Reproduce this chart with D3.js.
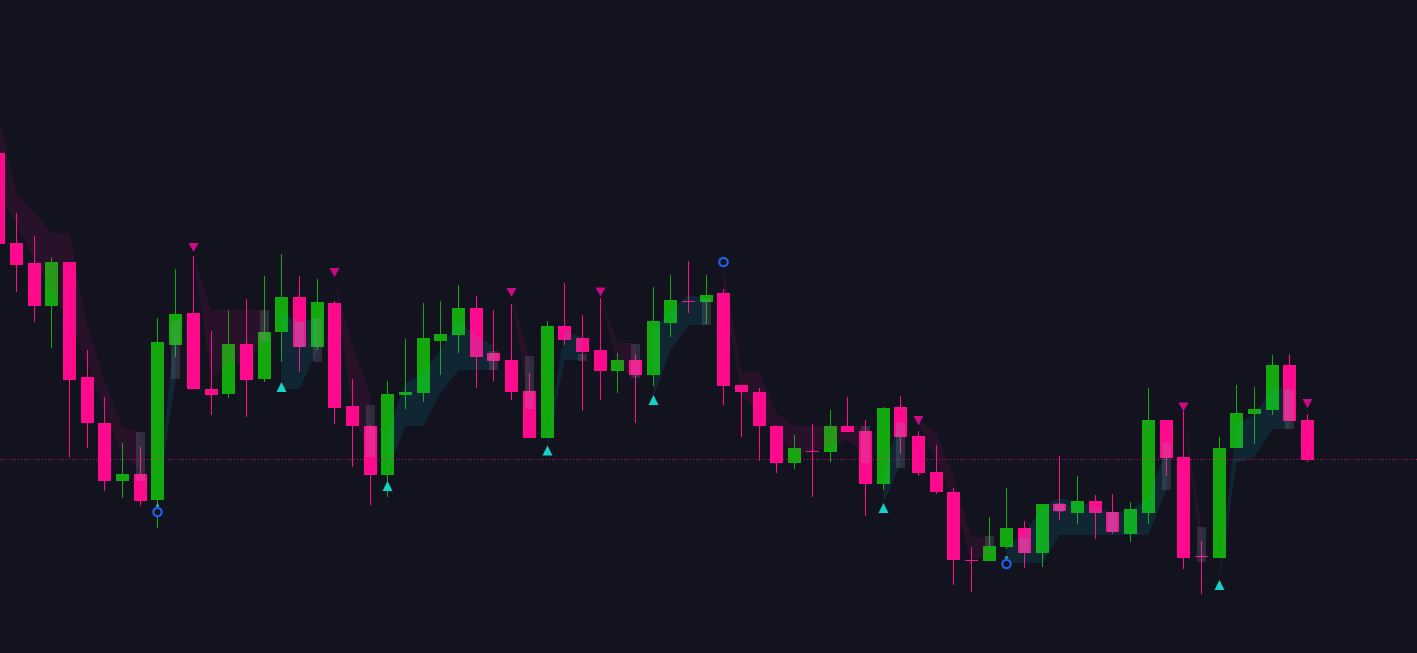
<!DOCTYPE html>
<html>
<head>
<meta charset="utf-8">
<script src="https://cdn.jsdelivr.net/npm/d3@7"></script>
<style>
  html, body { margin: 0; padding: 0; background: #12131f; overflow: hidden; }
</style>
</head>
<body>
<div id="chart-area"></div>
<script>
// candles, oldest first
const opens = [54.7, 45.7, 43.7, 39.4, 43.8, 32.3, 27.7, 21.9, 22.6, 20.0,
  35.5, 38.7, 31.1, 30.6, 35.6, 32.1, 36.8, 40.3, 35.3, 39.7,
  29.4, 27.4, 22.5, 30.5, 30.7, 35.9, 36.5, 39.2, 34.7, 34.0,
  30.9, 26.2, 37.4, 36.2, 35.0, 32.9, 34.0, 32.5, 37.7, 39.9,
  39.8, 40.7, 31.5, 30.8, 27.4, 23.7, 24.9, 24.8, 27.4, 26.9,
  21.6, 29.3, 26.4, 22.8, 20.8, 14.0, 13.9, 15.3, 17.2, 14.7,
  19.6, 18.7, 19.9, 18.8, 16.6, 18.7, 28.0, 24.3, 14.4, 14.2,
  25.2, 28.6, 29.0, 33.5, 28.0];
const highs = [57.0, 48.7, 46.4, 44.3, 43.8, 35.0, 30.3, 25.7, 25.3, 38.2,
  43.1, 44.4, 36.9, 39.0, 40.1, 42.4, 44.6, 42.4, 42.1, 39.9,
  32.1, 27.5, 31.9, 36.1, 39.7, 39.9, 41.5, 40.4, 39.0, 39.6,
  32.7, 37.9, 41.7, 38.5, 40.2, 34.7, 34.6, 41.3, 42.5, 43.9,
  42.5, 41.1, 31.5, 31.2, 27.4, 26.5, 27.6, 29.0, 30.3, 28.0,
  29.3, 30.4, 26.9, 25.5, 21.2, 15.3, 18.3, 21.2, 17.9, 19.6,
  24.4, 22.4, 20.5, 20.6, 19.8, 31.2, 28.0, 28.9, 15.9, 26.3,
  31.5, 31.3, 34.5, 34.6, 28.6];
const lows = [45.0, 40.8, 37.8, 35.2, 24.3, 25.2, 20.9, 20.2, 19.4, 17.2,
  34.3, 31.1, 28.5, 30.2, 28.3, 31.8, 33.8, 32.8, 35.0, 27.6,
  23.3, 19.5, 20.3, 29.1, 29.8, 32.5, 34.7, 31.2, 31.9, 30.0,
  26.2, 26.2, 35.5, 28.9, 30.0, 30.7, 27.7, 31.4, 36.3, 38.7,
  37.6, 29.5, 26.3, 23.9, 22.7, 23.1, 20.3, 23.8, 26.8, 18.4,
  21.0, 24.6, 22.4, 20.6, 11.5, 10.8, 13.9, 15.1, 13.2, 13.3,
  18.0, 17.6, 16.1, 16.6, 15.8, 17.6, 22.4, 13.1, 10.6, 14.2,
  25.2, 25.6, 28.5, 27.9, 23.8];
const closes = [45.6, 43.5, 39.4, 43.8, 32.0, 27.7, 21.9, 22.6, 19.9, 35.8,
  38.6, 31.1, 30.5, 35.6, 32.0, 36.8, 40.3, 35.3, 39.8, 29.2,
  27.4, 22.5, 30.6, 30.8, 36.2, 36.6, 39.2, 34.3, 33.9, 30.8,
  26.2, 37.4, 36.0, 34.8, 32.9, 34.0, 32.5, 37.9, 40.0, 39.8,
  40.5, 31.4, 30.8, 27.4, 23.7, 25.2, 24.8, 27.4, 26.8, 21.6,
  29.2, 26.3, 22.7, 20.8, 14.0, 13.9, 15.4, 17.2, 14.7, 19.6,
  18.9, 19.9, 18.7, 16.8, 19.1, 28.0, 24.2, 14.2, 14.3, 25.2,
  28.7, 29.1, 33.5, 27.9, 24.0];

// trailing stop band
const trailStop = [58.5, 50.7, 48.7, 46.7, 46.7, 37.3, 32.0, 27.2, 26.8, 20.0,
  32.0, 44.4, 39.0, 39.0, 39.0, 39.0, 31.1, 31.1, 35.0, 42.3,
  35.5, 30.5, 23.0, 27.4, 27.4, 30.7, 33.0, 33.0, 33.0, 40.3,
  34.3, 25.3, 34.0, 34.0, 40.3, 35.7, 35.7, 30.3, 35.0, 37.5,
  37.5, 43.3, 32.8, 32.8, 28.7, 27.4, 27.4, 27.4, 27.4, 27.4,
  19.7, 23.5, 28.0, 26.7, 22.3, 16.3, 16.3, 13.7, 13.7, 13.7,
  16.5, 16.5, 16.5, 16.5, 16.5, 16.5, 21.0, 29.3, 17.3, 12.0,
  23.7, 24.3, 27.1, 27.1, 28.6];
const trailBasis = [51.0, 47.5, 44.0, 41.0, 38.0, 33.5, 29.0, 24.5, 23.0, 20.0,
  37.8, 44.4, 32.0, 33.8, 33.8, 36.0, 38.7, 37.8, 38.2, 42.3,
  28.5, 24.5, 27.0, 31.7, 32.7, 35.0, 38.0, 36.3, 35.5, 40.3,
  29.0, 26.0, 37.0, 36.2, 40.3, 33.5, 32.2, 37.0, 39.0, 40.5,
  40.2, 41.0, 30.3, 28.7, 27.0, 24.7, 24.7, 25.5, 26.0, 24.5,
  23.0, 28.0, 27.5, 24.0, 20.0, 14.0, 14.5, 15.3, 16.7, 19.3,
  20.2, 19.8, 19.3, 18.7, 19.0, 20.3, 25.0, 28.9, 14.0, 12.5,
  27.7, 28.5, 31.3, 31.2, 28.6];
const trend = [-1, -1, -1, -1, -1, -1, -1, -1, -1, 1,
  1, -1, -1, -1, -1, -1, 1, 1, 1, -1,
  -1, -1, 1, 1, 1, 1, 1, 1, 1, -1,
  -1, 1, 1, 1, -1, -1, -1, 1, 1, 1,
  1, -1, -1, -1, -1, -1, -1, -1, -1, -1,
  1, 1, -1, -1, -1, -1, -1, 1, 1, 1,
  1, 1, 1, 1, 1, 1, 1, -1, -1, 1,
  1, 1, 1, 1, -1];

// signals
const downIdx = [11, 19, 29, 34, 52, 67, 74];
const downLevel = [45.25, 42.75, 40.75, 40.8, 27.95, 29.3, 29.65];
const upIdx = [16, 22, 31, 37, 50, 69];
const upLevel = [31.3, 21.4, 24.95, 30.0, 19.2, 11.5];
const tinyIdx = [9, 57];
const tinyLevel = [19.5, 14.3];
const circleIdx = [9, 41, 57];
const circleLevel = [18.8, 43.8, 13.6];

// shadow ranges
const ghostIdx = [8, 10, 15, 17, 18, 21, 28, 30, 33, 36, 40, 49, 51, 56, 58, 60, 63, 66, 68, 73];
const ghostHigh = [26.8, 37.9, 39.0, 37.8, 38.2, 29.5, 34.9, 34.4, 34.6, 35.6, 40.1, 27.4, 27.7, 16.4, 16.2, 19.7, 18.8, 25.7, 17.3, 31.0];
const ghostLow = [21.9, 32.1, 35.8, 35.3, 33.8, 24.3, 33.0, 29.1, 33.9, 32.2, 37.5, 23.7, 23.2, 15.4, 14.7, 18.8, 16.8, 21.0, 13.8, 27.1];

const W = 1417, H = 653;
const bg = '#12131f', green = '#13a80d', pink = '#ff0a8c';

var data = opens.map((o, i) => ({
    i: i, open: o, high: highs[i], low: lows[i], close: closes[i],
    stop: trailStop[i], basis: trailBasis[i], trend: trend[i]
}));

var svg = d3.select('#chart-area').append('svg')
    .attr('width', W)
    .attr('height', H)
    .style('display', 'block')
    .style('background', bg);

const step = 17.685;
const x = d3.scaleBand()
    .domain(data.map(d => d.i))
    .range([-10.03, -10.03 + step * data.length])
    .paddingInner(0.265)
    .paddingOuter(0.1325);
const bw = 13;
const left = (i) => Math.round(x(i));
const mid = (i) => left(i) + bw / 2;

const y = d3.scaleLinear().domain([4.7, 70]).range([H, 0]);

// candles
var candles = svg.append('g').selectAll('g').data(data).enter().append('g');
candles.append('line')
    .attr('x1', d => mid(d.i)).attr('x2', d => mid(d.i))
    .attr('y1', d => Math.round(y(d.high))).attr('y2', d => Math.round(y(d.low)))
    .attr('stroke', d => d.close >= d.open ? green : pink)
    .attr('stroke-width', 1);
candles.append('rect')
    .attr('x', d => left(d.i))
    .attr('y', d => Math.round(y(Math.max(d.open, d.close))))
    .attr('width', bw)
    .attr('height', d => Math.max(1, Math.round(y(Math.min(d.open, d.close))) - Math.round(y(Math.max(d.open, d.close)))))
    .attr('fill', d => d.close >= d.open ? green : pink);

// trend band segments
var segments = [];
data.forEach(d => {
    var last = segments[segments.length - 1];
    if (last && last[0].trend === d.trend) last.push(d);
    else segments.push([d]);
});
const band = d3.area()
    .x(d => mid(d.i))
    .y0(d => y(d.stop))
    .y1(d => y(d.basis));
svg.append('g').selectAll('path')
    .data(segments.filter(s => s.length > 1))
    .enter().append('path')
    .attr('d', band)
    .attr('fill', s => s[0].trend > 0 ? 'rgba(0,200,210,0.11)' : 'rgba(255,10,140,0.09)');

// shadow bars
svg.append('g').selectAll('rect')
    .data(ghostIdx)
    .enter().append('rect')
    .attr('x', (d) => left(d) + 2)
    .attr('width', 9)
    .attr('y', (d, k) => Math.round(y(ghostHigh[k])))
    .attr('height', (d, k) => Math.round(y(ghostLow[k])) - Math.round(y(ghostHigh[k])))
    .attr('fill', 'rgba(150,155,175,0.2)');

// last price line
const lastY = Math.round(y(closes[closes.length - 1])) - 0.5;
svg.append('line')
    .attr('x1', 0).attr('x2', W)
    .attr('y1', lastY).attr('y2', lastY)
    .attr('stroke', pink)
    .attr('stroke-opacity', 0.75)
    .attr('stroke-dasharray', '1,2');

// markers
svg.append('g').selectAll('path')
    .data(downIdx)
    .enter().append('path')
    .attr('d', (d, k) => {
        var cx = mid(d), cy = y(downLevel[k]);
        return `M${cx - 5},${cy - 4.5}L${cx + 5},${cy - 4.5}L${cx},${cy + 4.5}Z`;
    })
    .attr('fill', '#cc0a86');

svg.append('g').selectAll('path')
    .data(upIdx)
    .enter().append('path')
    .attr('d', (d, k) => {
        var cx = mid(d), cy = y(upLevel[k]);
        return `M${cx - 5},${cy + 5}L${cx + 5},${cy + 5}L${cx},${cy - 5}Z`;
    })
    .attr('fill', '#14d2c8');

svg.append('g').selectAll('path')
    .data(tinyIdx)
    .enter().append('path')
    .attr('d', (d, k) => {
        var cx = mid(d), cy = y(tinyLevel[k]);
        return `M${cx - 2},${cy + 1.5}L${cx + 2},${cy + 1.5}L${cx},${cy - 1.5}Z`;
    })
    .attr('fill', '#14d2c8');

svg.append('g').selectAll('circle')
    .data(circleIdx)
    .enter().append('circle')
    .attr('cx', d => mid(d))
    .attr('cy', (d, k) => y(circleLevel[k]))
    .attr('r', 4.2)
    .attr('fill', bg)
    .attr('stroke', '#2160e8')
    .attr('stroke-width', 2.2);
</script>
</body>
</html>
